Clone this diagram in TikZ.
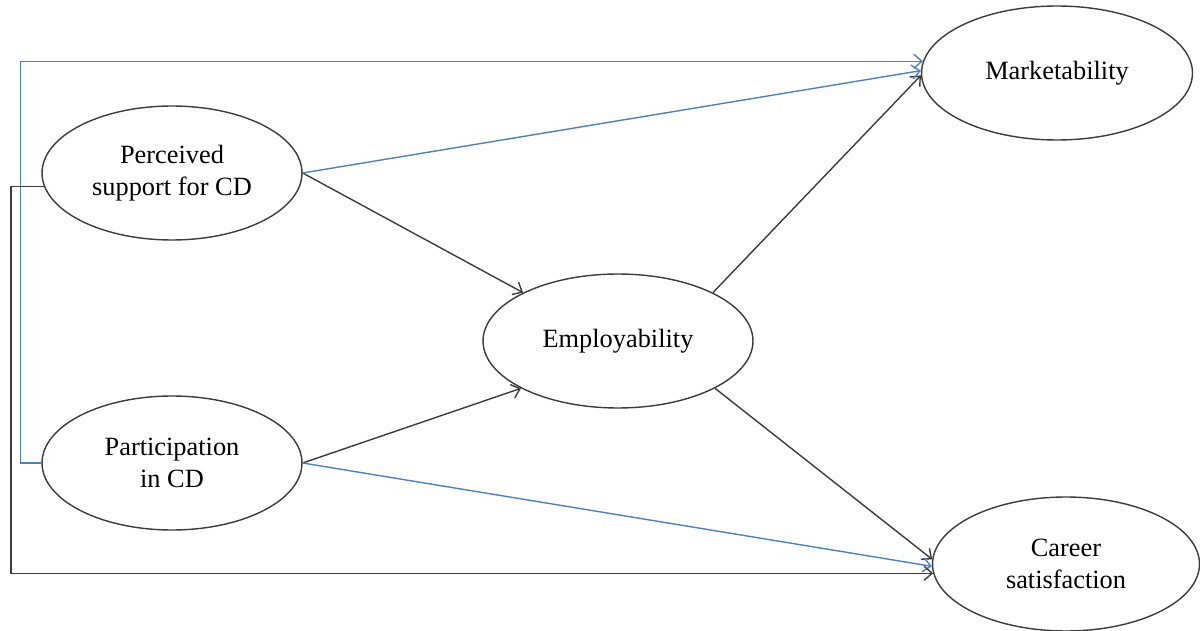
\documentclass[tikz,border=0pt]{standalone}
\usepackage{fontspec}
\setmainfont{Liberation Serif}
\usepackage{xcolor}
\usepackage{tikz}
\usetikzlibrary{shapes.geometric, arrows.meta}

\definecolor{linkblue}{RGB}{79,129,189}
\definecolor{linkgray}{RGB}{60,60,60}

\begin{document}
\begin{tikzpicture}[
    x=0.02cm, y=-0.02cm,
    font=\fontsize{15}{18.3}\selectfont,
    construct/.style={draw=linkgray, line width=0.8pt, ellipse, align=center, minimum width=5.3cm, minimum height=2.68cm, inner sep=0pt},
    blk/.style={draw=linkgray, line width=0.8pt, -{Straight Barb[length=4.5pt, width=8pt]}},
    blu/.style={draw=linkblue, line width=0.8pt, -{Straight Barb[length=4.5pt, width=8pt]}},
]
\useasboundingbox (0,0) rectangle (1200,631);

% Constructs
\node[construct, minimum width=5.2cm] (perc) at (172,173) {Perceived\\ support for CD};
\node[construct, minimum width=5.2cm] (part) at (172,463) {Participation\\ in CD};
\node[construct, minimum width=5.4cm] (emp) at (618,341) {Employability};
\node[construct, minimum width=5.42cm] (market) at (1057,73) {Marketability};
\node[construct, minimum width=5.34cm] (career) at (1066,564) {Career\\ satisfaction};

% Paths through employability
\draw[blk] (perc.east) -- (emp.153);
\draw[blk] (part.east) -- (emp.206);
\draw[blk] (emp.27) -- (market.181);
\draw[blk] (emp.334) -- (career.178);

% Direct paths
\draw[blu] (perc.east) -- (market.179);
\draw[blu] (part.east) -- (career.181);

% Cross paths round the left side
\draw[blu] (part.west) -- ++(-21,0) |- (market.175);
\draw[blk] (perc.186) -- ++(-33,0) |- (career.184.5);
\end{tikzpicture}
\end{document}
